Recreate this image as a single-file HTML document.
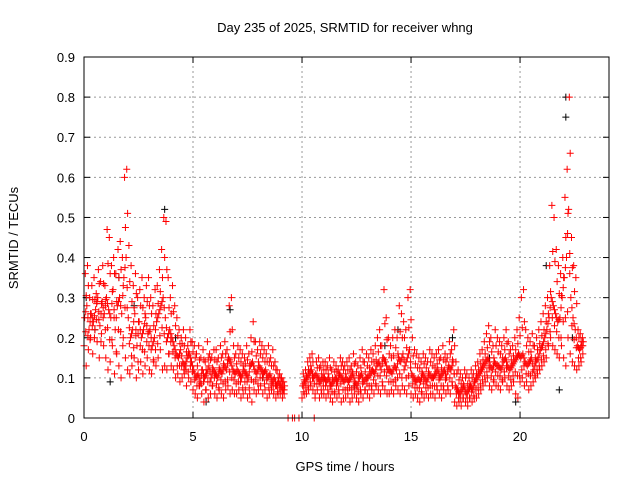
<!DOCTYPE html>
<html><head><meta charset="utf-8"><style>
html,body{margin:0;padding:0;background:#fff}
svg{display:block;font-family:"Liberation Sans",Arial,sans-serif}
</style></head><body>
<svg id="chart" width="640" height="480">
<rect width="640" height="480" fill="#fff"/>
<text x="345" y="32" text-anchor="middle" font-size="13">Day 235 of 2025, SRMTID for receiver whng</text>
<text x="0" y="0" transform="translate(18,238) rotate(-90)" text-anchor="middle" font-size="13">SRMTID / TECUs</text>
<text x="345" y="471" text-anchor="middle" font-size="13">GPS time / hours</text>
<g id="grid"></g>
<g id="ticks"></g>
<g id="marks"></g>
<rect x="84" y="57" width="525" height="361" fill="none" stroke="#000" stroke-width="1"/>
</svg>
<script>
const xTicks=[0,5,10,15,20];
const yTicks=[0,0.1,0.2,0.3,0.4,0.5,0.6,0.7,0.8,0.9];
const yTickLabels=["0","0.1","0.2","0.3","0.4","0.5","0.6","0.7","0.8","0.9"];
const hiVals=[.36,.38,.30,.33,.35,.31,.37,.34,.38,.33,.47,.45,.38,.40,.36,.42,.44,.40,.60,.62,.43,.38,.33,.36,.30,.32,.35,.30,.33,.35,.30,.28,.32,.33,.37,.42,.50,.49,.35,.30,.33,.28,.25,.22,.20,.22,.20,.18,.22,.19,.18,.16,.18,.15,.17,.14,.19,.16,.15,.17,.17,.15,.18,.16,.19,.17,.28,.30,.18,.16,.18,.17,.16,.15,.18,.16,.20,.24,.19,.17,.19,.18,.17,.16,.18,.15,.17,.14,.12,.11,.10,.09,null,0,null,0,0,null,0,null,.11,.12,.14,.15,.16,0,.14,.15,.13,.14,.14,.13,.15,.12,.14,.13,.12,.15,.14,.13,.14,.15,.13,.16,.14,.13,.15,.17,.14,.16,.15,.17,.16,.18,.20,.22,.18,.32,.25,.20,.18,.20,.22,.20,.28,.26,.24,.22,.30,.32,.20,.17,.16,.15,.14,.16,.15,.14,.17,.16,.15,.16,.17,.15,.18,.16,.15,.19,.17,.22,.14,.12,.11,.10,.12,.11,.10,.12,.11,.13,.14,.16,.17,.19,.21,.23,.20,.18,.22,.20,.19,.18,.20,.22,.19,.17,.18,.20,.22,.25,.30,.32,.22,.20,.19,.21,.18,.20,.22,.24,.26,.28,.30,.38,.53,.50,.42,.38,.36,.40,.55,.62,.80,.45,.38,.35,.22,.21,.20,null];
const midVals=[.25,.28,.22,.26,.24,.27,.30,.23,.29,.26,.30,.27,.25,.32,.22,.28,.30,.26,.35,.40,.25,.20,.22,.26,.18,.24,.20,.22,.25,.21,.22,.18,.20,.24,.26,.28,.30,.25,.20,.22,.20,.18,.16,.15,.17,.14,.13,.15,.16,.14,.12,.10,.11,.09,.12,.10,.11,.13,.10,.12,.11,.10,.12,.11,.13,.12,.15,.14,.12,.11,.12,.11,.10,.12,.11,.10,.13,.14,.12,.11,.13,.12,.11,.12,.10,.11,.09,.10,.08,.09,.08,.07,null,null,null,null,null,null,null,null,.08,.09,.10,.11,.12,.10,.11,.10,.09,.10,.10,.09,.10,.08,.09,.10,.09,.11,.10,.09,.10,.09,.10,.11,.09,.08,.10,.11,.09,.10,.10,.11,.12,.11,.13,.14,.12,.15,.14,.12,.12,.11,.13,.12,.15,.14,.16,.13,.15,.17,.11,.10,.09,.10,.09,.11,.10,.09,.11,.10,.10,.11,.12,.10,.11,.12,.10,.13,.12,.14,.08,.07,.06,.07,.08,.06,.07,.08,.07,.09,.10,.11,.12,.13,.14,.15,.13,.12,.14,.13,.13,.12,.14,.15,.13,.12,.13,.14,.15,.16,.15,.16,.14,.13,.14,.15,.12,.14,.15,.17,.18,.20,.22,.25,.30,.28,.26,.24,.25,.30,.35,.40,.52,.30,.25,.22,.18,.17,.18,null];
const loVals=[.18,.13,.17,.20,.16,.22,.19,.15,.21,.18,.15,.12,.14,.18,.11,.16,.13,.10,.20,.15,.12,.11,.13,.15,.10,.12,.14,.11,.13,.15,.12,.11,.14,.13,.15,.17,.12,.13,.12,.16,.13,.12,.10,.11,.09,.10,.11,.08,.10,.09,.07,.06,.05,.08,.06,.04,.07,.05,.06,.08,.06,.05,.07,.06,.05,.07,.08,.06,.07,.06,.06,.07,.05,.06,.07,.05,.06,.04,.07,.06,.07,.08,.06,.07,.05,.06,.07,.06,.05,.06,.06,.05,null,null,null,null,null,null,null,null,.05,.06,.06,.07,.08,.07,.06,.07,.05,.06,.06,.05,.06,.05,.04,.06,.05,.06,.04,.05,.05,.06,.04,.05,.06,.05,.04,.06,.05,.07,.06,.05,.07,.06,.08,.07,.06,.08,.07,.06,.06,.07,.06,.08,.07,.06,.08,.07,.06,.08,.06,.05,.06,.05,.04,.06,.05,.06,.05,.06,.06,.05,.07,.06,.05,.07,.06,.07,.06,.08,.04,.03,.04,.03,.05,.04,.03,.05,.04,.05,.05,.06,.07,.08,.09,.10,.08,.07,.09,.08,.08,.07,.09,.10,.08,.07,.08,.09,.06,.05,.09,.10,.08,.09,.07,.08,.09,.10,.11,.12,.13,.14,.15,.18,.20,.18,.17,.16,.15,.18,.15,.13,.20,.16,.14,.13,.12,.13,.14,null];
const blackT=[0.1,0.5,1.2,1.6,2.3,3.7,4.2,5.6,6.7,8.2,10.3,12.4,13.8,14.4,16.9,18.6,19.8,21.2,21.8,22.1,22.1,22.4];
const blackV=[0.30,0.22,0.09,0.35,0.28,0.52,0.20,0.04,0.27,0.10,0.12,0.08,0.18,0.22,0.20,0.15,0.04,0.38,0.07,0.75,0.80,0.20];
const X0=84,X1=609,Y0=418,Y1=57,XMAX=24.08,YMAX=0.9;
function sx(v){return X0+(X1-X0)*v/XMAX;}
function sy(v){return Y0-(Y0-Y1)*v/YMAX;}
const NS="http://www.w3.org/2000/svg";
const grid=document.getElementById('grid'),ticks=document.getElementById('ticks'),marks=document.getElementById('marks');
function mk(tag,attrs,parent){const e=document.createElementNS(NS,tag);for(const k in attrs)e.setAttribute(k,attrs[k]);parent.appendChild(e);return e;}
yTicks.forEach((v,i)=>{
  const y=sy(v);
  if(i>0&&i<yTicks.length-1){const g=mk('line',{x1:X0,x2:X1,y1:y,y2:y,stroke:'#999','stroke-dasharray':'2,3'},grid);
  
  }
  mk('line',{x1:X0,x2:X0+6,y1:y,y2:y,stroke:'#000'},ticks);
  mk('line',{x1:X1,x2:X1-6,y1:y,y2:y,stroke:'#000'},ticks);
  const t=mk('text',{x:X0-9,y:y+5,'text-anchor':'end','font-size':'13'},ticks);t.textContent=yTickLabels[i];
  
  
});
xTicks.forEach(v=>{
  const x=sx(v);
  if(v>0){const g=mk('line',{x1:x,x2:x,y1:Y0,y2:Y1,stroke:'#999','stroke-dasharray':'2,3'},grid);
  
  }
  mk('line',{x1:x,x2:x,y1:Y0,y2:Y0-6,stroke:'#000'},ticks);
  mk('line',{x1:x,x2:x,y1:Y1,y2:Y1+6,stroke:'#000'},ticks);
  const t=mk('text',{x:x,y:Y0+23,'text-anchor':'middle','font-size':'13'},ticks);t.textContent=String(v);
  
  
});
function cross(t,v,col){
  const x=sx(t),y=sy(v);
  const p=mk('path',{d:`M${x-3.5},${y}H${x+3.5}M${x},${y-3.5}V${y+3.5}`,stroke:col,'stroke-width':1,fill:'none'},marks);
  
  
}
blackT.forEach((t,i)=>cross(t,blackV[i],'#000'));
[loVals,midVals,hiVals].forEach((arr,k)=>{
  arr.forEach((v,i)=>{
    if(v===null)return;
    const t=i*0.1+0.03*k;
    cross(t,v,'#f00');
    if(v>0&&k===1){
      const nxt=(i+1<arr.length&&arr[i+1]!==null)?arr[i+1]:v;
      const lo=loVals[i]!==null?loVals[i]:v;
      const hi=hiVals[i]!==null?hiVals[i]:v;
      cross(t+0.05,(v+lo)/2,'#f00');
      cross(t+0.07,(v+hi)/2,'#f00');
      cross(t+0.05,(v+nxt)/2,'#f00');
    }
  });
});
</script>
</body></html>
